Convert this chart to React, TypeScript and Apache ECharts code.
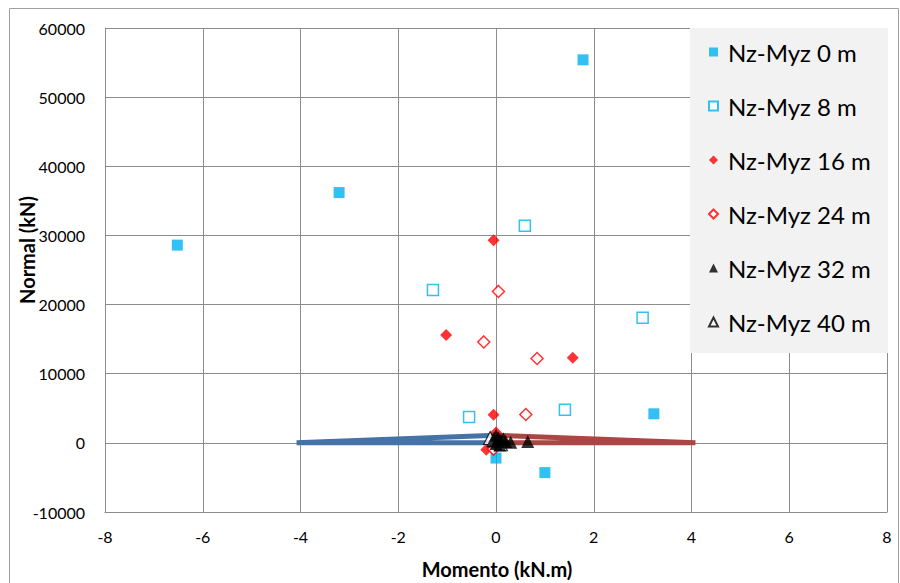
import React, { useEffect, useRef } from "react";
import * as echarts from "echarts";

const xTicks = [-8, -6, -4, -2, 0, 2, 4, 6, 8];
const yTicks = [-10000, 0, 10000, 20000, 30000, 40000, 50000, 60000];

const seriesNames = [
  "Nz-Myz 0 m",
  "Nz-Myz 8 m",
  "Nz-Myz 16 m",
  "Nz-Myz 24 m",
  "Nz-Myz 32 m",
  "Nz-Myz 40 m",
];

const data0m: number[][] = [
  [-6.52, 28600],
  [-3.21, 36200],
  [1.78, 55400],
  [3.23, 4200],
  [0.0, -2200],
  [1.0, -4300],
];
const data8m: number[][] = [
  [0.59, 31400],
  [-1.29, 22100],
  [3.0, 18100],
  [-0.55, 3750],
  [1.41, 4800],
];
const data16m: number[][] = [
  [-0.05, 29300],
  [-1.02, 15600],
  [1.57, 12300],
  [-0.05, 4050],
  [0.0, 1500],
  [-0.2, -1000],
];
const data24m: number[][] = [
  [0.05, 21900],
  [-0.25, 14600],
  [0.84, 12200],
  [0.61, 4100],
  [-0.05, -900],
];
const data32m: number[][] = [
  [0.0, 1100],
  [0.05, 700],
  [0.1, 400],
  [-0.05, 300],
  [0.15, 600],
  [0.2, 200],
  [0.3, 100],
  [0.0, -100],
  [0.08, -300],
  [0.65, 200],
];
const data40m: number[][] = [
  [-0.12, 700],
  [-0.05, 400],
  [0.05, 200],
  [0.1, -200],
];
const limitNeg: number[][] = [
  [0, 1100],
  [-4.08, 0],
  [0, 0],
];
const limitPos: number[][] = [
  [0, 1100],
  [4.08, 0],
  [0, 0],
];

const FONT = "Lato, 'Open Sans', sans-serif";

export default function App() {
  const ref = useRef<HTMLDivElement>(null);
  useEffect(() => {
    if (!ref.current) return;
    const chart = echarts.init(ref.current, null, { renderer: "svg" });
    const blue = "#00b0f0";
    const red = "#ff0000";
    chart.setOption({
      animation: false,
      backgroundColor: "#ffffff",
      grid: { left: 105, top: 28, right: 13, bottom: 71 },
      xAxis: {
        type: "value",
        min: xTicks[0],
        max: xTicks[xTicks.length - 1],
        interval: 2,
        axisLine: { show: true, onZero: false, lineStyle: { color: "#8c8c8c" } },
        axisTick: { show: false },
        axisLabel: { color: "#000", fontSize: 16, fontFamily: FONT, margin: 16 },
        splitLine: { show: true, lineStyle: { color: "#8c8c8c", width: 1 } },
      },
      yAxis: {
        type: "value",
        min: yTicks[0],
        max: yTicks[yTicks.length - 1],
        interval: 10000,
        axisLine: { show: true, onZero: false, lineStyle: { color: "#8c8c8c" } },
        axisTick: { show: false },
        axisLabel: {
          color: "#000",
          fontSize: 16,
          fontFamily: FONT,
          margin: 20,
          formatter: (v: number) => String(v),
        },
        splitLine: { show: true, lineStyle: { color: "#8c8c8c", width: 1 } },
      },
      legend: {
        data: seriesNames,
        orient: "vertical",
        left: 703,
        top: 35,
        itemGap: 30,
        itemWidth: 9,
        itemHeight: 9,
        z: 20,
        textStyle: { fontSize: 24, color: "#000", fontFamily: FONT, padding: [0, 0, 0, 5] },
      },
      graphic: [
        {
          type: "rect",
          z: 15,
          shape: { x: 690, y: 28, width: 198, height: 325 },
          style: { fill: "#f2f2f2", stroke: "none" },
        },
        {
          type: "rect",
          z: 1,
          silent: true,
          shape: { x: 9.5, y: 8.5, width: 889, height: 580 },
          style: { fill: "none", stroke: "#a0a0a0", lineWidth: 1 },
        },
        {
          type: "text",
          x: 497,
          y: 569,
          style: {
            text: "Momento (kN.m)",
            fill: "#000",
            font: `bold 20px ${FONT}`,
            textAlign: "center",
            textVerticalAlign: "middle",
          },
        },
        {
          type: "text",
          x: 27,
          y: 250,
          rotation: Math.PI / 2,
          style: {
            text: "Normal (kN)",
            fill: "#000",
            font: `bold 20px ${FONT}`,
            textAlign: "center",
            textVerticalAlign: "middle",
          },
        },
      ],
      series: [
        {
          name: "limNeg",
          type: "line",
          data: limitNeg,
          symbol: "none",
          z: 2,
          lineStyle: { color: "#4572a7", width: 5 },
        },
        {
          name: "limPos",
          type: "line",
          data: limitPos,
          symbol: "none",
          z: 2,
          lineStyle: { color: "#aa4643", width: 5 },
        },
        {
          name: seriesNames[0],
          type: "scatter",
          data: data0m,
          symbol: "rect",
          symbolSize: 11,
          itemStyle: { color: blue },
          z: 3,
        },
        {
          name: seriesNames[1],
          type: "scatter",
          data: data8m,
          symbol: "rect",
          symbolSize: 11,
          itemStyle: { color: "#ffffff", borderColor: blue, borderWidth: 1.5 },
          z: 3,
        },
        {
          name: seriesNames[2],
          type: "scatter",
          data: data16m,
          symbol: "diamond",
          symbolSize: 12,
          itemStyle: { color: red },
          z: 3,
        },
        {
          name: seriesNames[3],
          type: "scatter",
          data: data24m,
          symbol: "diamond",
          symbolSize: 12,
          itemStyle: { color: "#ffffff", borderColor: red, borderWidth: 1.5 },
          z: 3,
        },
        {
          name: seriesNames[4],
          type: "scatter",
          data: data32m,
          symbol: "triangle",
          symbolSize: 13,
          itemStyle: { color: "#000000" },
          z: 5,
        },
        {
          name: seriesNames[5],
          type: "scatter",
          data: data40m,
          symbol: "triangle",
          symbolSize: 13,
          itemStyle: { color: "#ffffff", borderColor: "#000000", borderWidth: 1.2 },
          z: 4,
        },
      ],
    });
    return () => chart.dispose();
  }, []);
  return (
    <div
      ref={ref}
      style={{ position: "absolute", left: 0, top: 0, width: 900, height: 583 }}
    />
  );
}
